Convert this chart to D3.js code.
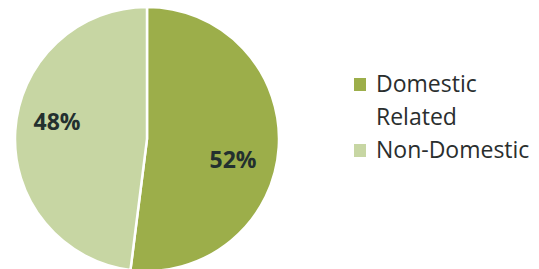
<!DOCTYPE html>
<html><head><meta charset="utf-8">
<script src="https://cdn.jsdelivr.net/npm/d3@7"></script>
<style>body{margin:0;background:#fff}svg{display:block}</style>
</head><body>
<svg id="c" width="539" height="269"></svg>
<script>
const categories = ["Domestic Related", "Non-Domestic"];
const legendLines = [["Domestic", "Related"], ["Non-Domestic"]];
const values = [52, 48];
const labels = ["52%", "48%"];
const colors = ["#9cae4a", "#c7d6a3"];

const svg = d3.select("#c");
const cx = 147, cy = 139, r = 132;
const g = svg.append("g").attr("transform", `translate(${cx},${cy})`);
const pie = d3.pie().sort(null).value(d => d)(values);
const arc = d3.arc().innerRadius(0).outerRadius(r);
g.selectAll("path").data(pie).enter().append("path")
  .attr("d", arc).attr("fill", (d, i) => colors[i])
  .attr("stroke", "#fff").attr("stroke-width", 2.5);

g.selectAll("text.lab").data(pie).enter().append("text")
  .attr("class", "lab")
  .attr("x", (d, i) => [86, -90][i])
  .attr("y", (d, i) => [29, -9][i])
  .attr("text-anchor", "middle")
  .attr("font-family", "Open Sans, sans-serif")
  .attr("font-weight", "bold").attr("font-size", 23)
  .attr("fill", "#23302f")
  .text((d, i) => labels[i]);

const lg = svg.append("g");
const ly = [92, 158];
categories.forEach((c, i) => {
  lg.append("rect").attr("x", 354).attr("y", ly[i] - 14).attr("width", 12).attr("height", 13)
    .attr("fill", colors[i]);
  const t = lg.append("text").attr("x", 376).attr("y", ly[i])
    .attr("font-family", "Open Sans, sans-serif").attr("font-size", 23).attr("fill", "#2a2e2e");
  legendLines[i].forEach((s, j) => {
    t.append("tspan").attr("x", 376).attr("dy", j === 0 ? 0 : 33).text(s);
  });
});
</script>
</body></html>
